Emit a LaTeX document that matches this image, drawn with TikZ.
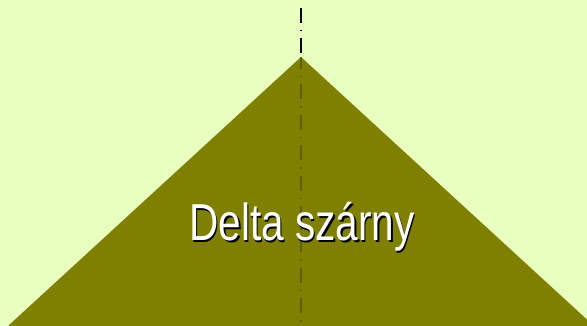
\documentclass[tikz,border=0pt]{standalone}
\usepackage{fontspec}
\setmainfont{Liberation Sans}
\usepackage{xcolor}
\usepackage{graphicx}
\usetikzlibrary{positioning, calc}
\definecolor{SkyLight}{RGB}{232,255,192}
\definecolor{WingOlive}{RGB}{128,128,0}
\definecolor{AxisDark}{RGB}{96,96,0}
\newcommand{\shadowtext}[1]{\scalebox{0.78}[1]{%
  \rlap{\kern2pt\raisebox{-2pt}{\textcolor{black}{#1}}}\textcolor{white}{#1}}}

\begin{document}
\begin{tikzpicture}[x=1pt,y=-1pt,
        axis/.style={line width=1.5pt,
                     dash pattern=on 15pt off 7pt on 1.5pt off 7pt},
        lbl/.style={font=\fontsize{52}{52}\selectfont,inner sep=0pt}
      ]
        \fill[SkyLight] (0,0) rectangle (587,326);
        \useasboundingbox (0,0) rectangle (587,326);
        \coordinate (apex) at (301,57);
        \coordinate (tipL) at (8,326);
        \coordinate (tipR) at (594,326);
        \coordinate (top) at (301,8);
        \coordinate (bot) at (301,326);
        \begin{scope}
          \clip (0,0) rectangle (587,326);
          \fill[WingOlive] (apex)--(tipL)--(tipR)--cycle;
        \end{scope}
        \draw[axis,black] (top)--(apex);
        \draw[axis,AxisDark,dash phase=3pt] (apex)--(bot);
        \node[lbl] (name) at (302,228) {\shadowtext{Delta szárny}};
      \end{tikzpicture}
\end{document}
